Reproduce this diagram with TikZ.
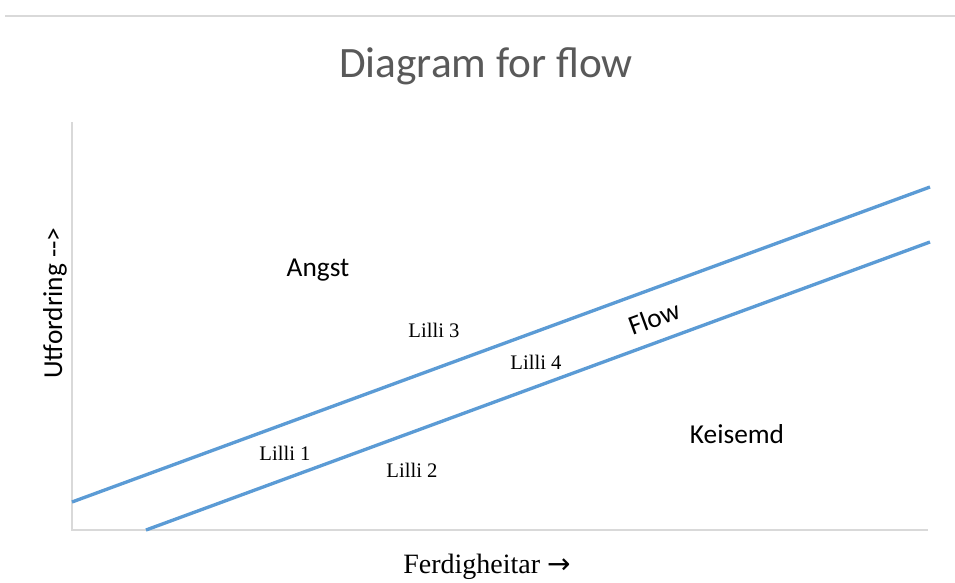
\documentclass[tikz,border=0pt]{standalone}
\usepackage{fontspec}
\setmainfont{Liberation Serif}
\newfontfamily\calib{Carlito}
\newfontfamily\dvs{DejaVu Sans}
\definecolor{lineblue}{HTML}{5B9BD5}
\definecolor{axisgray}{HTML}{D9D9D9}
\definecolor{titlegray}{HTML}{595959}
\begin{document}
\begin{tikzpicture}[x=0.75pt,y=-0.75pt,
  bluel/.style={draw=lineblue,line width=2.5pt},
  axisl/.style={draw=axisgray,line width=1.6pt},
  region/.style={font=\calib\fontsize{20.5}{24}\selectfont,anchor=base,inner sep=0pt},
  lilli/.style={font=\fontsize{15.5}{18}\selectfont,anchor=base,inner sep=0pt}]
\useasboundingbox (0,0) rectangle (955,582);
% top rule
\draw[axisl] (5,16) -- (955,16);
% title
\node[anchor=base,inner sep=0pt,text=titlegray,font=\calib\fontsize{32.5}{38}\selectfont] (title) at (486,77) {Diagram for flow};
% axes
\coordinate (ytop) at (72,122);
\coordinate (origin) at (72,530);
\coordinate (xend) at (928,530);
\draw[axisl] (ytop) -- (origin) -- (xend);
% flow channel lines
\coordinate (u1) at (72,502);
\coordinate (u2) at (930,187);
\coordinate (l1) at (146,530);
\coordinate (l2) at (930,242);
\draw[bluel] (u1) -- (u2);
\draw[bluel] (l1) -- (l2);
% region labels
\node[region] (angst) at (318,276) {Angst};
\node[region] (keis) at (737,443) {Keisemd};
\node[region,rotate=20.2,anchor=center,inner sep=0pt] (flow) at (654,318) {Flow};
% lilli labels
\node[lilli] (l1lab) at (285,460) {Lilli 1};
\node[lilli] (l2lab) at (412,477) {Lilli 2};
\node[lilli] (l3lab) at (434,337) {Lilli 3};
\node[lilli] (l4lab) at (536,369) {Lilli 4};
% axis labels
\node[anchor=base,inner sep=0pt,font=\fontsize{21}{24}\selectfont] (xlab) at (487,573) {Ferdigheitar {\dvs →}};
\node[anchor=base,inner sep=0pt,rotate=90,font=\calib\fontsize{20.5}{24}\selectfont] (ylab) at (62,303) {Utfordring -->};
\end{tikzpicture}
\end{document}
